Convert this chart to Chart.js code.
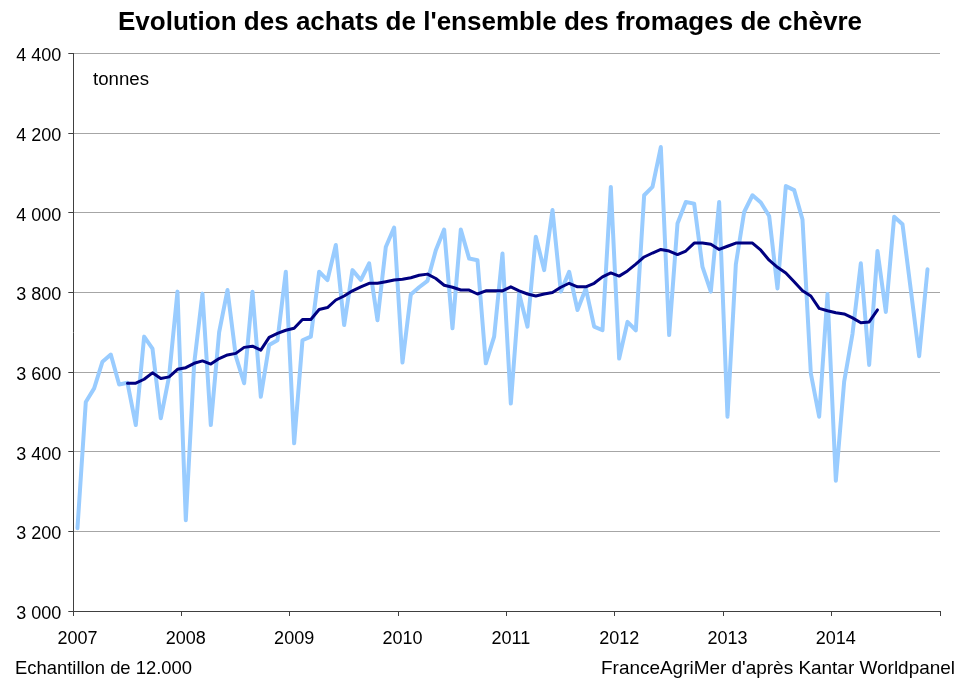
<!DOCTYPE html>
<html>
<head>
<meta charset="utf-8">
<script src="https://cdn.jsdelivr.net/npm/chart.js@4.4.1/dist/chart.umd.min.js"></script>
<style>
  html, body { margin: 0; padding: 0; background: #fff; }
  #wrap { position: relative; width: 956px; height: 688px; overflow: hidden; background: #fff; }
  #c { position: absolute; left: 0; top: 0; }
  .txt { position: absolute; white-space: nowrap; font-family: "Liberation Sans", Arial, sans-serif; color: #000; line-height: 1; transform-origin: 0 0; }
</style>
</head>
<body>
<div id="wrap">
  <canvas id="c" width="956" height="688"></canvas>
  <div class="txt" id="title" data-w="744" style="left:118px; top:9px; font-size:25px; font-weight:bold;">Evolution des achats de l'ensemble des fromages de chèvre</div>
  <div class="txt" id="unit" data-w="56" style="left:93px; top:70px; font-size:18px;">tonnes</div>
  <div class="txt" id="foot1" data-w="177" style="left:15px; top:659px; font-size:18.5px;">Echantillon de 12.000</div>
  <div class="txt" id="foot2" data-w="354" data-right="955" style="top:659px; font-size:18.5px;">FranceAgriMer d'après Kantar Worldpanel</div>
</div>
<script>
// ---- Data (13 four-week periods per year, P1 2007 .. P13 2014) ----
const years = ['2007','2008','2009','2010','2011','2012','2013','2014'];
const periodsPerYear = 13;

// Purchases per period (tonnes), P1 2007 .. P12 2014
const achats = [
  3208, 3525, 3559, 3626, 3644, 3569, 3573, 3467, 3689, 3659, 3484, 3590, 3802,
  3228, 3620, 3797, 3467, 3700, 3806, 3640, 3572, 3802, 3538, 3668, 3680, 3852,
  3421, 3680, 3689, 3852, 3831, 3919, 3718, 3856, 3831, 3873, 3730, 3914, 3963,
  3624, 3795, 3813, 3829, 3906, 3958, 3710, 3958, 3885, 3881, 3622, 3689, 3898,
  3521, 3797, 3714, 3940, 3856, 4007, 3802, 3852, 3756, 3810, 3714, 3705, 4065,
  3634, 3726, 3705, 4044, 4065, 4165, 3693, 3973, 4027, 4023, 3864, 3802, 4027,
  3488, 3870, 4002, 4044, 4026, 3992, 3810, 4067, 4057, 3983, 3597, 3488, 3796,
  3327, 3576, 3696, 3873, 3618, 3904, 3751, 3990, 3971, 3806, 3640, 3858, null
];

// Moving average (tonnes)
const moyenneMobile = [
  null, null, null, null, null, null, 3572, 3572, 3582, 3598, 3584, 3588, 3607,
  3611, 3622, 3628, 3620, 3634, 3643, 3647, 3662, 3665, 3655, 3687, 3697, 3705,
  3710, 3732, 3732, 3757, 3762, 3781, 3791, 3804, 3814, 3823, 3823, 3827, 3831,
  3833, 3837, 3843, 3846, 3835, 3818, 3813, 3806, 3806, 3796, 3804, 3804, 3804,
  3814, 3804, 3796, 3791, 3796, 3800, 3813, 3823, 3814, 3814, 3823, 3839, 3849,
  3841, 3854, 3871, 3889, 3899, 3908, 3904, 3895, 3904, 3924, 3924, 3921, 3908,
  3916, 3924, 3924, 3924, 3906, 3881, 3863, 3849, 3827, 3804, 3791, 3760, 3754,
  3749, 3746, 3736, 3724, 3726, 3756, null, null, null, null, null, null, null
];

const yTicks = { min: 3000, max: 4400, step: 200 };

// Category labels: "2007 P1" ... "2014 P13"
const categories = [];
years.forEach(y => { for (let p = 1; p <= periodsPerYear; p++) categories.push(y + ' P' + p); });

const FONT = '"Liberation Sans", Arial, sans-serif';
const AXIS = '#404040';
const GRID = '#a6a6a6';

new Chart(document.getElementById('c'), {
  type: 'line',
  data: {
    labels: categories,
    datasets: [
      { label: 'Achats', data: achats, borderColor: '#99ccff', backgroundColor: '#99ccff',
        borderWidth: 4, pointRadius: 0, tension: 0, borderJoinStyle: 'round', borderCapStyle: 'round', order: 2 },
      { label: 'Moyenne mobile', data: moyenneMobile, borderColor: '#000080', backgroundColor: '#000080',
        borderWidth: 3, pointRadius: 0, tension: 0, borderJoinStyle: 'round', borderCapStyle: 'round', order: 1 }
    ]
  },
  options: {
    responsive: false,
    animation: false,
    events: [],
    layout: { padding: { top: 53.5, right: 16, left: 0, bottom: 0 } },
    plugins: { legend: { display: false }, tooltip: { enabled: false }, title: { display: false } },
    scales: {
      x: {
        type: 'category',
        offset: true,
        afterFit: s => { s.height = 77; },
        grid: {
          offset: true,
          drawOnChartArea: false,
          drawTicks: true,
          tickLength: 5,
          color: ctx => (ctx.index === undefined || ctx.index % periodsPerYear === 0) ? AXIS : 'rgba(0,0,0,0)',
          tickColor: ctx => (ctx.index === undefined || ctx.index % periodsPerYear === 0) ? AXIS : 'rgba(0,0,0,0)'
        },
        border: { display: true, color: AXIS, width: 1 },
        ticks: {
          autoSkip: false, maxRotation: 0, minRotation: 0, padding: 12,
          color: '#000', font: { family: FONT, size: 18 },
          callback: (v, i) => (i % periodsPerYear === 0) ? years[i / periodsPerYear] : ''
        }
      },
      y: {
        min: yTicks.min, max: yTicks.max,
        afterFit: s => { s.width = 73.3; },
        grid: {
          color: ctx => (ctx.tick && ctx.tick.value === yTicks.min) ? AXIS : GRID,
          tickColor: AXIS,
          tickLength: 5,
          lineWidth: 1
        },
        border: { display: true, color: AXIS, width: 1 },
        ticks: {
          stepSize: yTicks.step, padding: 7, labelOffset: 3,
          color: '#000', font: { family: FONT, size: 18 },
          callback: v => String(v).replace(/\B(?=(\d{3})+(?!\d))/g, ' ')
        }
      }
    }
  }
});

// Fit overlay texts to their measured widths in the reference
document.querySelectorAll('.txt').forEach(el => {
  const w = el.getBoundingClientRect().width;
  const target = parseFloat(el.dataset.w);
  const sx = target / w;
  el.style.transform = 'scaleX(' + sx + ')';
  if (el.dataset.right) el.style.left = (parseFloat(el.dataset.right) - target) + 'px';
});
</script>
</body>
</html>
